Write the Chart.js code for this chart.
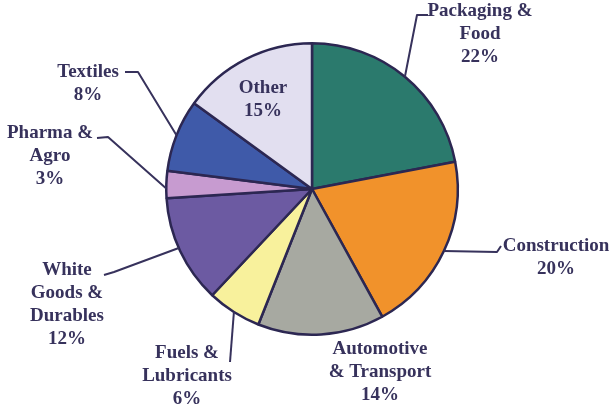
<!DOCTYPE html>
<html lang="en">
<head>
<meta charset="UTF-8">
<title>End-use markets</title>
<script src="https://cdn.jsdelivr.net/npm/chart.js"></script>
<style>
  body { margin: 0; background: #fff; }
  #pie { display: block; }
</style>
</head>
<body>
<canvas id="pie" width="612" height="407"></canvas>
<script>
// data
var categories = ['Packaging & Food', 'Construction', 'Automotive & Transport', 'Fuels & Lubricants',
                  'White Goods & Durables', 'Pharma & Agro', 'Textiles', 'Other'];
var shares = [22, 20, 14, 6, 12, 3, 8, 15];
var labelLines = [['Packaging &', 'Food'], ['Construction'], ['Automotive', '& Transport'], ['Fuels &', 'Lubricants'],
                  ['White', 'Goods &', 'Durables'], ['Pharma &', 'Agro'], ['Textiles'], ['Other']];

var colors = ['#2b7a6d', '#f1922b', '#a7a9a1', '#f8f19c', '#6c5aa2', '#c79bd0', '#3f5aa9', '#e2dff0'];
var ink = '#37325c';
var labelFont = 'bold 19px "Liberation Serif"';

// where each label sits (text centre, first line) and its leader elbows
var layout = [
  { x: 480, y: 11, leader: [[428, 15], [417, 15]], frac: 0.5 },
  { x: 556, y: 246, leader: [[501, 246], [497, 252]], frac: 0.5 },
  { x: 380, y: 349 },
  { x: 187, y: 353, leader: [[230, 362]], frac: 0.5 },
  { x: 67, y: 270, leader: [[104, 275], [114, 272]], frac: 0.53 },
  { x: 50, y: 133, leader: [[97, 138], [108, 137]], frac: 0.35 },
  { x: 88, y: 72, leader: [[125, 72], [138, 72]], frac: 0.5 },
  { x: 263, y: 88 }
];

var labelPlugin = {
  id: 'labels',
  afterDatasetsDraw: function (chart) {
    var ctx = chart.ctx;
    var arcs = chart.getDatasetMeta(0).data;
    ctx.save();
    ctx.strokeStyle = ink;
    ctx.lineWidth = 2;
    ctx.lineJoin = 'round';
    layout.forEach(function (L, i) {
      if (!L.leader) return;
      var a = arcs[i];
      var ang = a.startAngle + (a.endAngle - a.startAngle) * L.frac;
      var ex = a.x + Math.cos(ang) * a.outerRadius;
      var ey = a.y + Math.sin(ang) * a.outerRadius;
      ctx.beginPath();
      ctx.moveTo(L.leader[0][0], L.leader[0][1]);
      for (var k = 1; k < L.leader.length; k++) ctx.lineTo(L.leader[k][0], L.leader[k][1]);
      ctx.lineTo(ex, ey);
      ctx.stroke();
    });
    ctx.fillStyle = ink;
    ctx.font = labelFont;
    ctx.textAlign = 'center';
    ctx.textBaseline = 'middle';
    layout.forEach(function (L, i) {
      var lines = labelLines[i].concat([shares[i] + '%']);
      lines.forEach(function (t, k) {
        ctx.fillText(t, L.x, L.y + k * 23);
      });
    });
    ctx.restore();
  }
};

new Chart(document.getElementById('pie'), {
  type: 'pie',
  data: {
    labels: categories,
    datasets: [{
      data: shares,
      backgroundColor: colors,
      borderColor: '#2c2752',
      borderWidth: 2.5
    }]
  },
  options: {
    responsive: false,
    animation: false,
    layout: { padding: { top: 42, bottom: 71, left: 165, right: 153 } },
    plugins: { legend: { display: false }, tooltip: { enabled: false } }
  },
  plugins: [labelPlugin]
});
</script>
</body>
</html>
